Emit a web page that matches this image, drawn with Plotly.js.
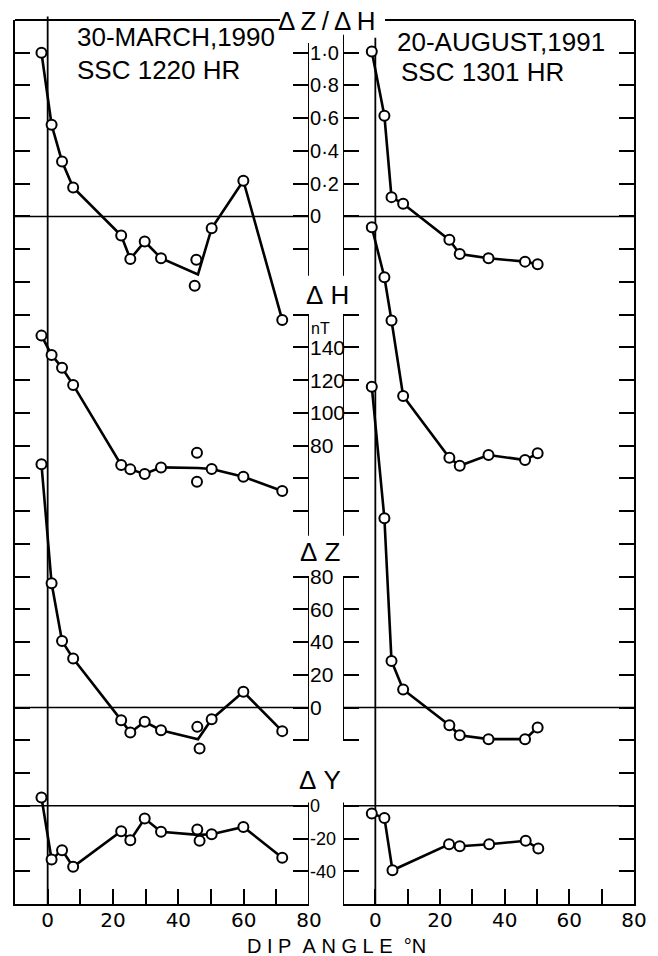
<!DOCTYPE html>
<html><head><meta charset="utf-8">
<script src="https://cdn.plot.ly/plotly-3.0.1.min.js"></script>
<style>html,body{margin:0;padding:0;background:#fff}</style>
</head><body><div id="chart" style="width:658px;height:956px"></div>
<script>
// ---------------- DATA ----------------
// 30 March 1990, SSC 1220 hr  (index 8 = mean of the double station, line vertex only)
const marchDip = [-1.9, 1.2, 4.4, 7.8, 22.5, 25.3, 29.7, 34.7, 46.0, 50.2, 59.9, 71.8];
const marchMeanIdx = 8;
const marchZH  = [1.00, 0.56, 0.336, 0.177, -0.117, -0.26, -0.153, -0.255, -0.355, -0.072, 0.218, -0.632];
const marchH   = [147.2, 135.4, 127.6, 117.1, 68.2, 65.5, 62.7, 66.7, 66.3, 65.7, 61.0, 52.3];
const marchZ   = [148.6, 75.9, 40.6, 30.0, -7.7, -15.2, -8.7, -13.8, -19.3, -7.1, 9.6, -14.4];
const marchY   = [5.1, -32.8, -27.1, -37.3, -15.5, -21.0, -7.8, -15.9, -17.8, -17.4, -12.9, -31.8];
// the two individual values at the double station
const marchZHPairDip = [45.5, 45.0];
const marchZHPair    = [-0.265, -0.424];
const marchHPairDip  = [45.7, 45.7];
const marchHPair     = [75.7, 58.0];
const marchZPairDip  = [45.8, 46.5];
const marchZPair     = [-11.8, -25.0];
const marchYPairDip  = [45.8, 46.5];
const marchYPair     = [-14.5, -21.4];

// 20 August 1991, SSC 1301 hr
const augDip  = [-1.1, 2.8, 5.0, 8.6, 22.9, 26.1, 35.0, 46.3, 50.2];
const augZH   = [1.008, 0.615, 0.118, 0.077, -0.143, -0.229, -0.255, -0.276, -0.292];
const augH    = [213.4, 182.9, 156.4, 110.3, 72.6, 67.7, 74.3, 71.2, 75.3];
const augZ    = [196.0, 115.6, 28.5, 11.0, -10.8, -16.9, -19.3, -19.3, -12.2];
const augYDip = [-1.1, 2.8, 5.3, 22.8, 26.1, 35.2, 46.5, 50.4];
const augY    = [-4.7, -7.4, -39.4, -23.5, -24.7, -23.5, -21.4, -26.1];

// tick labels
const dipTickVals = [0, 10, 20, 30, 40, 50, 60, 70, 80];
const dipTickText = ['0', '', '20', '', '40', '', '60', '', '80'];
const frameTickVals = [1, 0.8, 0.6, 0.4, 0.2, 0, -0.2, -0.4, -0.6, -0.8, -1, -1.2, -1.4, -1.6, -1.8,
                       -2, -2.2, -2.4, -2.6, -2.8, -3, -3.2, -3.4, -3.6, -3.8, -4];
const zhTickVals = [1, 0.8, 0.6, 0.4, 0.2, 0, -0.2];
const zhTickText = ['1\u00B70', '0\u00B78', '0\u00B76', '0\u00B74', '0\u00B72', '0', ''];
const hTickVals = [160, 140, 120, 100, 80, 60, 40];
const hTickText = ['', '140', '120', '100', '80', '', ''];
const zTickVals = [80, 60, 40, 20, 0, -20];
const zTickText = ['80', '60', '40', '20', '0', ''];
const yTickVals = [0, -20, -40];
const yTickText = ['0', '-20', '-40'];

// ---------------- helpers ----------------
const dropMean = arr => arr.filter((_, i) => i !== marchMeanIdx);
const BLACK = '#000';
const lineStyle = {color: BLACK, width: 2.6};
const markerStyle = {symbol: 'circle', size: 10, color: '#fff', line: {color: BLACK, width: 2}};

function lineTrace(x, y, xa, ya) {
  return {type: 'scatter', mode: 'lines', x: x, y: y, xaxis: xa, yaxis: ya,
          line: lineStyle, hoverinfo: 'skip', showlegend: false, cliponaxis: false};
}
function markerTrace(x, y, xa, ya) {
  return {type: 'scatter', mode: 'markers', x: x, y: y, xaxis: xa, yaxis: ya,
          marker: markerStyle, hoverinfo: 'skip', showlegend: false, cliponaxis: false};
}

const traces = [
  // March (left panel)
  lineTrace(marchDip, marchZH, 'x', 'y'),
  lineTrace(marchDip, marchH, 'x', 'y3'),
  lineTrace(marchDip, marchZ, 'x', 'y4'),
  lineTrace(marchDip, marchY, 'x', 'y5'),
  markerTrace(dropMean(marchDip).concat(marchZHPairDip), dropMean(marchZH).concat(marchZHPair), 'x', 'y2'),
  markerTrace(dropMean(marchDip).concat(marchHPairDip), dropMean(marchH).concat(marchHPair), 'x', 'y3'),
  markerTrace(dropMean(marchDip).concat(marchZPairDip), dropMean(marchZ).concat(marchZPair), 'x', 'y4'),
  markerTrace(dropMean(marchDip).concat(marchYPairDip), dropMean(marchY).concat(marchYPair), 'x', 'y5'),
  // August (right panel)
  lineTrace(augDip, augZH, 'x2', 'y6'),
  lineTrace(augDip, augH, 'x2', 'y8'),
  lineTrace(augDip, augZ, 'x2', 'y9'),
  lineTrace(augYDip, augY, 'x2', 'y10'),
  markerTrace(augDip, augZH, 'x2', 'y7'),
  markerTrace(augDip, augH, 'x2', 'y8'),
  markerTrace(augDip, augZ, 'x2', 'y9'),
  markerTrace(augYDip, augY, 'x2', 'y10')
];

// ---------------- axes ----------------
const FONT = 'Liberation Sans, Arial, sans-serif';
const base = {showgrid: false, zeroline: false, linecolor: BLACK, tickcolor: BLACK,
              tickwidth: 2, linewidth: 2, fixedrange: true};
const rangeZH = [-4.2, 1.2], rangeH = [-200, 340], rangeZ = [-120, 420], rangeY = [-60, 480];

function xAxis(domain, anchor) {
  return Object.assign({}, base, {domain: domain, range: [-10, 80], anchor: anchor,
    showline: true, ticks: 'inside', ticklen: 15, tickvals: dipTickVals, ticktext: dipTickText,
    ticklabelstandoff: -3,
    tickfont: {family: 'DejaVu Sans, sans-serif', size: 20, color: BLACK}});
}
function frameAxis(anchor, side) {
  return Object.assign({}, base, {domain: [0, 1], range: rangeZH, anchor: anchor, side: side,
    showline: true, ticks: 'inside', ticklen: 15, tickvals: frameTickVals, showticklabels: false});
}
function midAxis(range, overlay, anchor, side, vals, text, size) {
  const a = Object.assign({}, base, {range: range, overlaying: overlay, anchor: anchor, side: side,
    showline: false, ticks: 'inside', ticklen: 16, tickvals: vals});
  if (text) { a.ticktext = text; a.tickfont = {family: FONT, size: size, color: BLACK}; }
  else a.showticklabels = false;
  return a;
}

// ---------------- shapes ----------------
const S = (o) => Object.assign({type: 'line', line: {color: BLACK, width: 2}, layer: 'above'}, o);
const zl = {color: BLACK, width: 1.6};
const shapes = [
  // zero lines
  S({xref: 'x', yref: 'y', x0: -10, x1: 80, y0: 0, y1: 0, line: zl, layer: 'below'}),
  S({xref: 'x', yref: 'y4', x0: -10, x1: 80, y0: 0, y1: 0, line: zl, layer: 'below'}),
  S({xref: 'x', yref: 'y5', x0: -10, x1: 80, y0: 0, y1: 0, line: zl, layer: 'below'}),
  S({xref: 'x2', yref: 'y6', x0: -10, x1: 80, y0: 0, y1: 0, line: zl, layer: 'below'}),
  S({xref: 'x2', yref: 'y9', x0: -10, x1: 80, y0: 0, y1: 0, line: zl, layer: 'below'}),
  S({xref: 'x2', yref: 'y10', x0: -10, x1: 80, y0: 0, y1: 0, line: zl, layer: 'below'}),
  // zero-dip vertical lines
  S({xref: 'x', yref: 'paper', x0: 0, x1: 0, y0: 0, y1: 1.004, line: {color: BLACK, width: 1.8}, layer: 'below'}),
  S({xref: 'x2', yref: 'paper', x0: 0, x1: 0, y0: 0, y1: 0.98, line: {color: BLACK, width: 1.8}, layer: 'below'}),
  // top frame (interrupted by the ΔZ/ΔH title)
  S({xref: 'x', yref: 'paper', x0: -10, x1: 71.1, y0: 1, y1: 1}),
  S({xref: 'x2', yref: 'paper', x0: 3.0, x1: 80, y0: 1, y1: 1}),
  // middle axis segments, left panel (x = 80)
  S({xref: 'x', yref: 'y', x0: 80, x1: 80, y0: 1.06, y1: -0.363}),
  S({xref: 'x', yref: 'y3', x0: 80, x1: 80, y0: 160, y1: 25}),
  S({xref: 'x', yref: 'y4', x0: 80, x1: 80, y0: 80, y1: -20}),
  S({xref: 'x', yref: 'y5', x0: 80, x1: 80, y0: 2, y1: -60}),
  // middle axis segments, right panel (x = -10)
  S({xref: 'x2', yref: 'y6', x0: -10, x1: -10, y0: 1.11, y1: -0.363}),
  S({xref: 'x2', yref: 'y8', x0: -10, x1: -10, y0: 160, y1: 25}),
  S({xref: 'x2', yref: 'y9', x0: -10, x1: -10, y0: 80, y1: -20}),
  S({xref: 'x2', yref: 'y10', x0: -10, x1: -10, y0: 2, y1: -60})
];

// ---------------- annotations ----------------
const A = (text, x, y, size, xanchor, fam) => ({text: text, x: x, y: y, xref: 'paper', yref: 'paper',
  xanchor: xanchor || 'center', yanchor: 'middle', showarrow: false, borderpad: 0,
  font: {family: fam || FONT, size: size, color: BLACK}});
const NB = '\u00A0', TH = '\u2009';
const annotations = [
  A('30-MARCH,1990', 0.0985, 0.9808, 26, 'left'),
  A('SSC 1220 HR', 0.0985, 0.9434, 26, 'left'),
  A('20-AUGUST,1991', 0.6155, 0.9751, 26, 'left'),
  A('SSC 1301 HR', 0.622, 0.9412, 26, 'left'),
  A('\u0394' + TH + 'Z' + TH + '/' + TH + '\u0394' + TH + 'H', 0.504, 0.9989, 26),
  A('\u0394' + NB + 'H', 0.5048, 0.6889, 26),
  A('nT', 0.4766, 0.6505, 16, 'left'),
  A('\u0394' + NB + 'Z', 0.4943, 0.3982, 26),
  A('\u0394' + NB + 'Y', 0.4927, 0.1403, 26),
  A(['D','I','P','','A','N','G','L','E','','\u00B0N'].join(NB), 0.5186, -0.0475, 20)
];

const layout = {
  width: 658, height: 956,
  margin: {l: 15, r: 24, t: 20, b: 52, pad: 0},
  paper_bgcolor: '#fff', plot_bgcolor: 'rgba(0,0,0,0)',
  showlegend: false,
  font: {family: FONT, color: BLACK},
  xaxis: xAxis([0, 0.475], 'y'),
  xaxis2: xAxis([0.5299, 1], 'y6'),
  yaxis: frameAxis('x', 'left'),
  yaxis2: midAxis(rangeZH, 'y', 'x', 'right', zhTickVals, zhTickText, 20),
  yaxis3: midAxis(rangeH, 'y', 'x', 'right', hTickVals, hTickText, 21),
  yaxis4: midAxis(rangeZ, 'y', 'x', 'right', zTickVals, zTickText, 21),
  yaxis5: midAxis(rangeY, 'y', 'x', 'right', yTickVals, yTickText, 18),
  yaxis6: frameAxis('x2', 'right'),
  yaxis7: midAxis(rangeZH, 'y6', 'x2', 'left', zhTickVals, null),
  yaxis8: midAxis(rangeH, 'y6', 'x2', 'left', hTickVals, null),
  yaxis9: midAxis(rangeZ, 'y6', 'x2', 'left', zTickVals, null),
  yaxis10: midAxis(rangeY, 'y6', 'x2', 'left', yTickVals, null),
  shapes: shapes,
  annotations: annotations
};

Plotly.newPlot('chart', traces, layout, {displayModeBar: false, staticPlot: true});
</script>
</body></html>
